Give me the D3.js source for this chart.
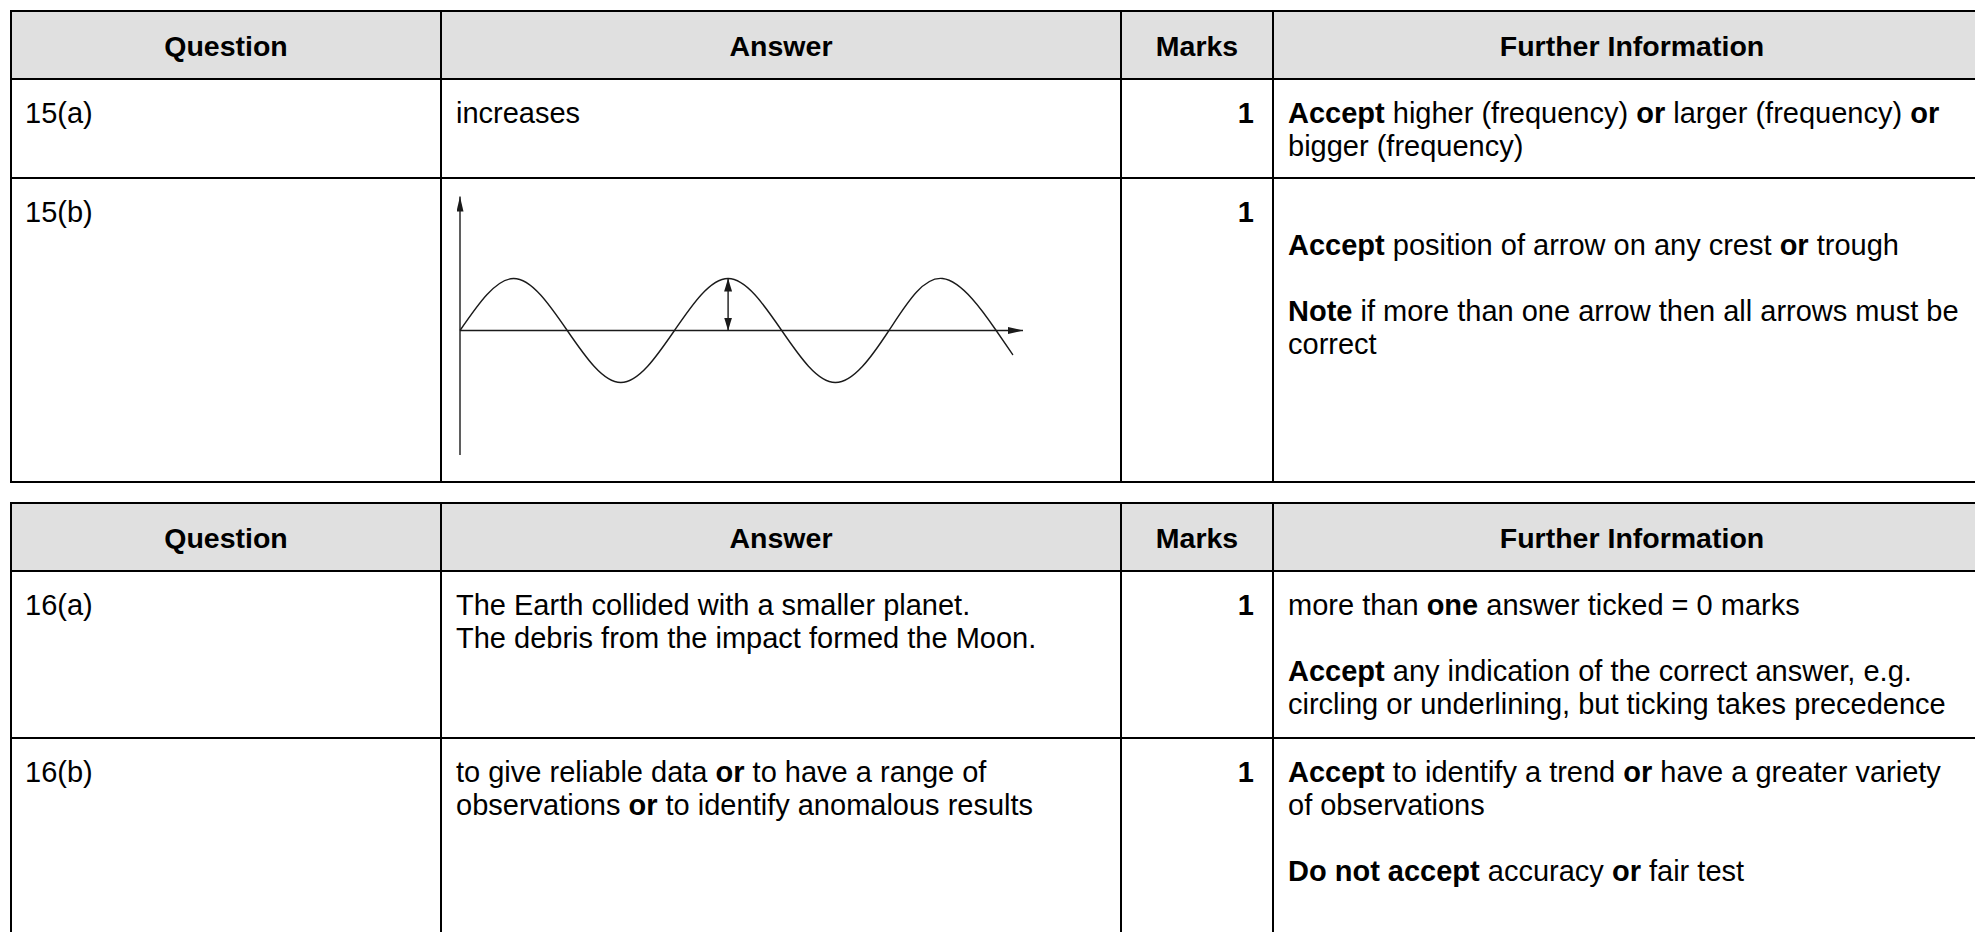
<!DOCTYPE html>
<html>
<head>
<meta charset="utf-8">
<script src="https://cdn.jsdelivr.net/npm/d3@7"></script>
<style>
  html, body { margin: 0; padding: 0; background: #fff; }
  svg { display: block; }
</style>
</head>
<body>
<div id="chart"></div>
<script>
// ---- data ----
const headers = ["Question", "Answer", "Marks", "Further Information"];
const questions = ["15(a)", "15(b)", "16(a)", "16(b)"];
const marks = [1, 1, 1, 1];

// cell text: list of lines, each line a list of [text, bold] runs ([] = blank line)
const answers = [
  [[["increases", 0]]],
  [],
  [[["The Earth collided with a smaller planet.", 0]],
   [["The debris from the impact formed the Moon.", 0]]],
  [[["to give reliable data ", 0], ["or", 1], [" to have a range of", 0]],
   [["observations ", 0], ["or", 1], [" to identify anomalous results", 0]]]
];
const furtherInfo = [
  [[["Accept", 1], [" higher (frequency) ", 0], ["or", 1], [" larger (frequency) ", 0], ["or", 1]],
   [["bigger (frequency)", 0]]],
  [[],
   [["Accept", 1], [" position of arrow on any crest ", 0], ["or", 1], [" trough", 0]],
   [],
   [["Note", 1], [" if more than one arrow then all arrows must be", 0]],
   [["correct", 0]]],
  [[["more than ", 0], ["one", 1], [" answer ticked = 0 marks", 0]],
   [],
   [["Accept", 1], [" any indication of the correct answer, e.g.", 0]],
   [["circling or underlining, but ticking takes precedence", 0]]],
  [[["Accept", 1], [" to identify a trend ", 0], ["or", 1], [" have a greater variety", 0]],
   [["of observations", 0]],
   [],
   [["Do not accept", 1], [" accuracy ", 0], ["or", 1], [" fair test", 0]]]
];
const tableRows = [[0, 1], [2, 3]];

// wave in the 15(b) answer, in cycles / amplitude units
const wavePhase = [0, 0.25, 0.5, 0.75, 1, 1.25, 1.5, 1.75, 2, 2.25, 2.5, 2.578];
const waveValue = [0, 1, 0, -1, 0, 1, 0, -1, 0, 1, 0, -0.47];
const markedCrest = 1.25;

// ---- layout ----
const W = 1975, H = 932;
const colX = [11, 441, 1121, 1273, 1991];
const tables = [
  { top: 11, header: 68, rows: [99, 304] },
  { top: 503, header: 68, rows: [167, 240] }
];
const font = "'Liberation Sans', Arial, Helvetica, sans-serif";
const fontSize = 29;
const lineH = 33;
const firstBase = 44;
const headBase = 45;

const svg = d3.select("#chart").append("svg")
  .attr("width", W).attr("height", H)
  .style("background", "#fff");

const defs = svg.append("defs");
function marker(id, len, wid) {
  defs.append("marker")
    .attr("id", id)
    .attr("markerUnits", "userSpaceOnUse")
    .attr("viewBox", `0 0 ${len} ${wid}`)
    .attr("refX", len).attr("refY", wid / 2)
    .attr("markerWidth", len).attr("markerHeight", wid)
    .attr("orient", "auto-start-reverse")
    .append("path")
    .attr("d", `M0,0L${len},${wid / 2}L0,${wid}Z`)
    .attr("fill", "#1a1a1a");
}
marker("axisHead", 15, 7);
marker("ampHead", 13, 8);

function writeLines(g, lines, x, y0, anchor) {
  lines.forEach((runs, i) => {
    if (!runs.length) return;
    const t = g.append("text")
      .attr("x", x).attr("y", y0 + i * lineH)
      .attr("text-anchor", anchor || "start")
      .style("white-space", "pre");
    t.selectAll("tspan").data(runs).join("tspan")
      .attr("font-weight", d => d[1] ? 700 : 400)
      .text(d => d[0]);
  });
}

tables.forEach((tb, ti) => {
  const g = svg.append("g")
    .attr("font-family", font)
    .attr("font-size", fontSize)
    .attr("fill", "#000");

  const edges = [tb.top, tb.top + tb.header];
  tb.rows.forEach(h => edges.push(edges[edges.length - 1] + h));
  const bottom = edges[edges.length - 1];

  g.append("rect")
    .attr("x", colX[0]).attr("y", tb.top)
    .attr("width", colX[4] - colX[0]).attr("height", tb.header)
    .attr("fill", "#e0e0e0");

  headers.forEach((h, i) => {
    g.append("text")
      .attr("x", (colX[i] + colX[i + 1]) / 2)
      .attr("y", tb.top + headBase)
      .attr("text-anchor", "middle")
      .attr("font-weight", 700)
      .attr("font-size", 28.5)
      .text(h);
  });

  tableRows[ti].forEach((qi, r) => {
    const top = edges[r + 1];
    const base = top + firstBase;
    writeLines(g, [[[questions[qi], 0]]], colX[0] + 14, base);
    writeLines(g, answers[qi], colX[1] + 15, base);
    writeLines(g, [[[String(marks[qi]), 1]]], colX[3] - 19, base, "end");
    writeLines(g, furtherInfo[qi], colX[3] + 15, base);

    if (qi === 1) drawWave(svg, top);
  });

  g.selectAll("line.h").data(edges).join("line")
    .attr("class", "h")
    .attr("x1", colX[0] - 1).attr("x2", colX[4])
    .attr("y1", d => d).attr("y2", d => d)
    .attr("stroke", "#000").attr("stroke-width", 2.2);

  g.selectAll("line.v").data(colX).join("line")
    .attr("class", "v")
    .attr("x1", d => d).attr("x2", d => d)
    .attr("y1", tb.top).attr("y2", bottom)
    .attr("stroke", "#000").attr("stroke-width", 2);
});

function drawWave(root, rowTop) {
  const ox = colX[1] + 19;
  const oy = rowTop + 152.5;
  const x = d3.scaleLinear().domain([0, 2.625]).range([ox, ox + 563]);
  const y = d3.scaleLinear().domain([-1, 1]).range([oy + 52, oy - 52]);
  const g = root.append("g")
    .attr("stroke", "#1a1a1a").attr("fill", "none").attr("stroke-width", 1.4);

  // axes
  g.append("line")
    .attr("x1", x(0)).attr("x2", x(0))
    .attr("y1", oy + 124.5).attr("y2", oy - 134)
    .attr("marker-end", "url(#axisHead)");
  g.append("line")
    .attr("x1", x(0)).attr("x2", x(2.625))
    .attr("y1", y(0)).attr("y2", y(0))
    .attr("marker-end", "url(#axisHead)");

  const pts = wavePhase.map((p, i) => [p, waveValue[i]]);
  g.append("path")
    .datum(pts)
    .attr("d", d3.line().x(d => x(d[0])).y(d => y(d[1])).curve(d3.curveNatural));

  // amplitude arrow
  g.append("line")
    .attr("x1", x(markedCrest)).attr("x2", x(markedCrest))
    .attr("y1", y(0)).attr("y2", y(1))
    .attr("marker-start", "url(#ampHead)")
    .attr("marker-end", "url(#ampHead)");
}
</script>
</body>
</html>
